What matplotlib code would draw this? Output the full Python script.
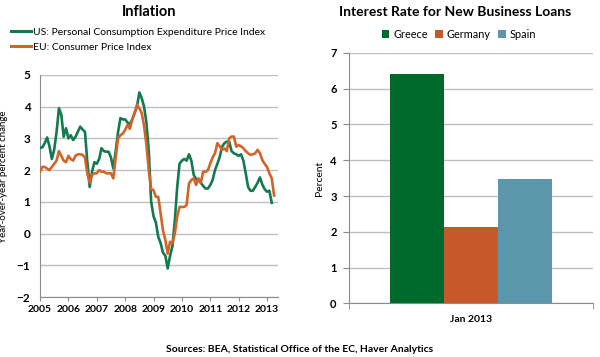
import numpy as np
import matplotlib
matplotlib.use("Agg")
import matplotlib.pyplot as plt
from matplotlib.lines import Line2D

plt.rcParams['font.family'] = ['Lato', 'DejaVu Sans']

# monthly year-over-year inflation, Jan 2005 onward
us_pce = [2.7, 2.72, 2.85, 3.03, 2.75, 2.35, 2.65, 3.2, 3.95, 3.75, 3.05, 3.32,
          3.0, 3.1, 2.95, 3.05, 3.21, 3.37, 3.28, 3.21, 2.27, 1.47, 1.95, 2.25,
          2.2, 2.35, 2.69, 2.6, 2.58, 2.58, 2.4, 2.05, 2.6, 3.2, 3.64, 3.6,
          3.6, 3.5, 3.45, 3.6, 3.8, 4.0, 4.45, 4.27, 4.0, 3.5, 2.6, 1.0,
          0.55, 0.35, -0.1, -0.3, -0.6, -0.7, -1.1, -0.7, -0.4, 0.4, 1.45, 2.2,
          2.3, 2.35, 2.3, 2.5, 2.3, 1.85, 1.72, 1.69, 1.6, 1.5, 1.42, 1.42,
          1.53, 1.69, 2.0, 2.2, 2.42, 2.74, 2.85, 2.9, 2.9, 2.6, 2.53, 2.5,
          2.45, 2.5, 2.3, 1.9, 1.47, 1.35, 1.35, 1.47, 1.6, 1.77, 1.55, 1.4,
          1.32, 1.35, 0.97]
eu_cpi = [1.95, 2.1, 2.1, 2.05, 2.0, 2.1, 2.2, 2.3, 2.6, 2.45, 2.3, 2.25,
          2.45, 2.35, 2.3, 2.45, 2.5, 2.5, 2.48, 2.4, 1.9, 1.6, 1.85, 1.9,
          1.9, 2.0, 1.95, 1.95, 1.9, 1.9, 1.9, 1.74, 2.4, 3.0, 3.1, 3.15,
          3.27, 3.43, 3.3, 3.59, 3.8, 4.06, 3.95, 3.8, 3.4, 2.8, 2.0, 1.4,
          1.37, 1.16, 1.16, 0.63, 0.1, -0.2, -0.63, -0.26, -0.3, 0.0, 0.53, 0.84,
          0.84, 0.84, 0.9, 1.58, 1.69, 1.74, 1.53, 1.74, 1.6, 1.95, 1.95, 2.0,
          2.21, 2.4, 2.53, 2.85, 2.75, 2.64, 2.68, 2.6, 3.0, 3.06, 3.06, 2.74,
          2.79, 2.75, 2.69, 2.6, 2.53, 2.48, 2.5, 2.53, 2.64, 2.53, 2.32, 2.2,
          2.1, 1.9, 1.74, 1.2]
years = [2005, 2006, 2007, 2008, 2009, 2010, 2011, 2012, 2013]

countries = ['Greece', 'Germany', 'Spain']
loan_rates = [6.42, 2.14, 3.47]

green = '#137a50'
orange = '#d2642a'
bar_colors = ['#006a2c', '#c5592a', '#5b97aa']
grid_c = '#bfbfbf'
axis_c = '#8c8c8c'

fig = plt.figure(figsize=(6, 3.57), dpi=100)

# ---- left: inflation lines
ax1 = fig.add_axes([0.0667, 0.168, 0.3963, 0.622])
x_us = 2005 + np.arange(len(us_pce)) / 12
x_eu = 2005 + np.arange(len(eu_cpi)) / 12
ax1.plot(x_us, us_pce, color=green, lw=1.9, zorder=3)
ax1.plot(x_eu, eu_cpi, color=orange, lw=1.9, zorder=3)
ax1.set_xlim(2005, 2013.38)
ax1.set_ylim(-2, 5)
ax1.set_yticks(range(-2, 6))
ax1.set_xticks(years)
ax1.set_xticklabels([str(y) for y in years], fontsize=7.5, fontweight='bold')
ax1.tick_params(axis='y', labelsize=8.5, length=0, pad=7)
for t in ax1.get_yticklabels():
    t.set_fontweight('bold')
ax1.tick_params(axis='x', length=3, color=axis_c, pad=3)
ax1.grid(axis='y', color=grid_c, lw=1)
ax1.set_axisbelow(True)
for s in ['top', 'right']:
    ax1.spines[s].set_visible(False)
for s in ['left', 'bottom']:
    ax1.spines[s].set_color(axis_c)
ax1.set_ylabel('Year-over-year percent change', fontsize=7)
ax1.yaxis.set_label_coords(-0.135, 0.54)

fig.text(0.248, 0.965, 'Inflation', ha='center', va='center', fontsize=10.5, fontweight='bold')
handles = [Line2D([], [], color=green, lw=2.2), Line2D([], [], color=orange, lw=2.2)]
fig.legend(handles, ['US: Personal Consumption Expenditure Price Index', 'EU: Consumer Price Index'],
           loc='upper left', bbox_to_anchor=(0.012, 0.935), frameon=False, fontsize=7.5,
           handlelength=1.9, handletextpad=0.15, labelspacing=0.55, borderaxespad=0)

# ---- right: loan rates bars
ax2 = fig.add_axes([0.582, 0.150, 0.406, 0.702])
bw = 0.2225
offsets = [-bw, 0, bw]
for c, v, off, col in zip(countries, loan_rates, offsets, bar_colors):
    ax2.bar(off, v, width=bw, color=col, label=c, zorder=3)
ax2.set_xlim(-0.5, 0.5)
ax2.set_ylim(0, 7)
ax2.set_yticks(range(0, 8))
ax2.set_xticks([0])
ax2.set_xticklabels(['Jan 2013'], fontsize=7.5, fontweight='bold')
ax2.set_xticks([-0.5, 0.5], minor=True)
ax2.tick_params(axis='x', which='major', length=0, pad=8)
ax2.tick_params(axis='x', which='minor', length=4, color=axis_c)
ax2.tick_params(axis='y', labelsize=8, length=4, color=axis_c, pad=5)
for t in ax2.get_yticklabels():
    t.set_fontweight('bold')
ax2.grid(axis='y', color=grid_c, lw=1)
ax2.set_axisbelow(True)
for s in ['top', 'right']:
    ax2.spines[s].set_visible(False)
for s in ['left', 'bottom']:
    ax2.spines[s].set_color(axis_c)
ax2.set_ylabel('Percent', fontsize=7.5)
ax2.yaxis.set_label_coords(-0.105, 0.5)
fig.text(0.758, 0.965, 'Interest Rate for New Business Loans', ha='center', va='center',
         fontsize=10, fontweight='bold')
ax2.legend(loc='lower center', bbox_to_anchor=(0.45, 1.035), ncol=3, frameon=False, fontsize=7.8,
           handlelength=0.7, handleheight=0.7, handletextpad=0.35, columnspacing=0.7, borderaxespad=0)

fig.text(0.5, 0.022, 'Sources: BEA, Statistical Office of the EC, Haver Analytics', ha='center',
         va='center', fontsize=7.5, fontweight='bold')

fig.savefig('out.png', dpi=100)
